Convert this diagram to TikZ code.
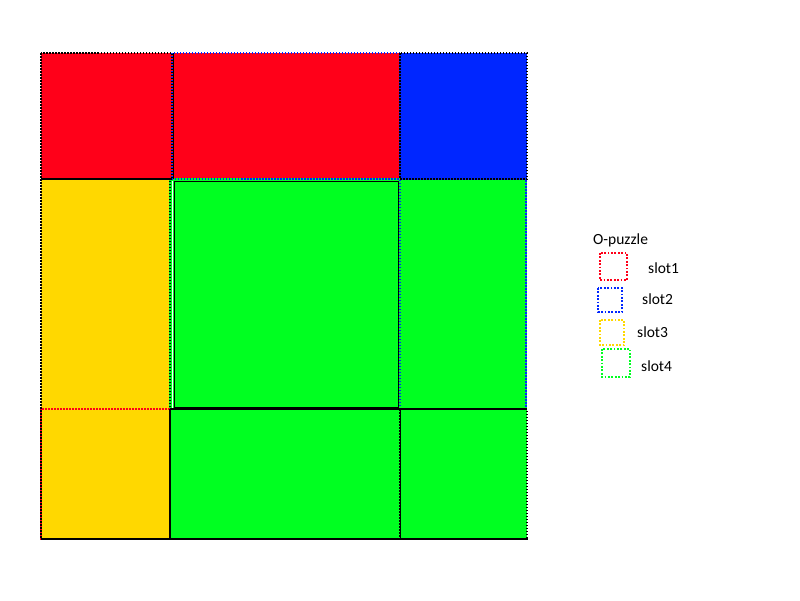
\documentclass[tikz,border=0pt]{standalone}
\usepackage{fontspec}
\setmainfont{Carlito}
\definecolor{pred}{HTML}{FF0019}
\definecolor{pblue}{HTML}{0026FF}
\definecolor{pyellow}{HTML}{FFD800}
\definecolor{pgreen}{HTML}{00FF21}
\tikzset{
  cellline/.style={line width=1.3pt, dash pattern=on 1.5pt off 1.5pt},
  slotbox/.style={line width=1.8pt, dash pattern=on 1.8pt off 1.6pt},
  lbl/.style={font=\fontsize{15.5}{18}\selectfont, inner sep=0pt, anchor=west},
}
\begin{document}
\begin{tikzpicture}[x=1pt,y=-1pt]
\useasboundingbox (0,0) rectangle (800,600);
% top row
\fill[pred] (41,53) rectangle (172,179);
\fill[pred] (172,53) rectangle (400,179);
\fill[pblue] (400,53) rectangle (527,179);
% middle row
\fill[pyellow] (41,179) rectangle (170,409);
\fill[pgreen] (170,179) rectangle (400,409);
\fill[pgreen] (400,179) rectangle (527,409);
% bottom row
\fill[pyellow] (41,409) rectangle (170,539);
\fill[pgreen] (170,409) rectangle (400,539);
\fill[pgreen] (400,409) rectangle (527,539);
% coloured dotted outlines
\draw[cellline, pblue] (172,53) rectangle (400,179);
\draw[cellline, pgreen] (170,179) rectangle (526,409);
\draw[cellline, pred] (41,409) rectangle (400,539);
\draw[cellline, pblue] (400,409) rectangle (526,179);
% black dotted outlines
\draw[cellline, black] (41,53) rectangle (172,179);
\draw[cellline, black] (400,53) rectangle (527,179);
\draw[cellline, black] (41,179) rectangle (170,539);
\draw[cellline, black] (170,409) rectangle (400,539);
\draw[cellline, black] (400,409) rectangle (527,539);
% solid lines
\draw[black, line width=1.4pt] (173.5,53) -- (173.5,179);
\draw[black, line width=1.4pt] (174.5,181.5) rectangle (398.5,407.5);
\draw[white, line width=0.8pt] (172,181) -- (172,409);
\draw[black, line width=1.4pt] (170,409) -- (527,409);
\draw[black, line width=1pt] (400,409) -- (400,539);
\draw[black, line width=2pt] (41,539) -- (528,539);
\draw[black, line width=1.2pt] (170,410) -- (170,539);
% legend
\node[lbl] (title) at (593,240) {O-puzzle};
\draw[slotbox, pred] (600,253) rectangle (627,280);
\node[lbl] (s1) at (648,268) {slot1};
\draw[slotbox, pblue] (598,288) rectangle (622,312);
\node[lbl] (s2) at (642,299) {slot2};
\draw[slotbox, pyellow] (600,320) rectangle (624,345);
\node[lbl] (s3) at (637,332) {slot3};
\draw[slotbox, pgreen] (602,349) rectangle (630,377);
\node[lbl] (s4) at (641,366) {slot4};
\end{tikzpicture}
\end{document}
